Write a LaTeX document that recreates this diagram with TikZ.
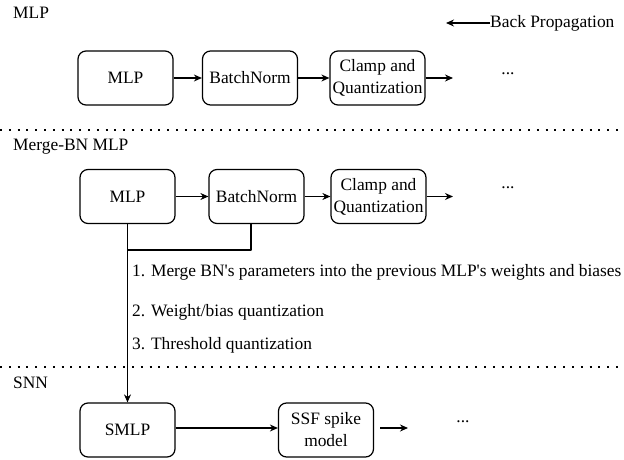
\documentclass[tikz,border=0pt]{standalone}
\usepackage{fontspec}
\setmainfont{LiberationSerif}[Extension=.ttf,UprightFont=*-Regular,BoldFont=*-Bold,ItalicFont=*-Italic]
\usetikzlibrary{arrows.meta}

\tikzset{
  block/.style={draw,line width=1.2pt,rounded corners=8pt,minimum width=95pt,
    minimum height=54pt,inner sep=1pt,align=center},
  flow/.style={-{Stealth[length=8pt,width=7pt]},line width=1.2pt},
  tag/.style={anchor=west,inner sep=0pt},
  sepline/.style={line width=2pt,dash pattern=on 2pt off 6.8pt}
}

\begin{document}
\begin{tikzpicture}[x=1pt,y=-1pt,font=\fontsize{17.4}{22}\selectfont,line join=round]
        \useasboundingbox (0,0) rectangle (624,460);

        % MLP
        \node[tag] (titlea) at (13,13) {MLP};
        \node[tag] (bp) at (490,23) {Back Propagation};
        \coordinate (bptip) at (446,23);
        \draw[flow] (bp.west) -- (bptip);

        \node[block] (mlpa) at (125.5,78) {MLP};
        \node[block] (bna) at (250,78) {BatchNorm};
        \node[block] (clampa) at (377.5,78) {Clamp and\\Quantization};
        \node[inner sep=0pt] (dotsa) at (508,74) {...};
        \coordinate (enda) at (453,78);
        \draw[flow] (mlpa) -- (bna);
        \draw[flow] (bna) -- (clampa);
        \draw[flow] (clampa) -- (enda);

        \draw[sepline] (0,130) coordinate (sepa) -- (624,130);

        % Merge-BN MLP
        \node[tag] (titleb) at (13,147) {Merge-BN MLP};
        \node[block] (mlpb) at (127.5,196.5) {MLP};
        \node[block] (bnb) at (256.5,196.5) {BatchNorm};
        \node[block] (clampb) at (378.5,196.5) {Clamp and\\Quantization};
        \node[inner sep=0pt] (dotsb) at (508,188) {...};
        \coordinate (endb) at (453,196.5);
        \draw[flow] (mlpb) -- (bnb);
        \draw[flow] (bnb) -- (clampb);
        \draw[flow] (clampb) -- (endb);

        \coordinate (bnfoot) at (251,250);
        \coordinate (join) at (127.5,250);
        \draw[line width=1.2pt] (bnb.south -| bnfoot) -- (bnfoot) -- (join);

        \node[tag] (notea) at (132,272) {1. Merge BN\textquotesingle s parameters into the previous MLP\textquotesingle s weights and biases};
        \node[tag] (noteb) at (132,312) {2. Weight/bias quantization};
        \node[tag] (notec) at (132,345) {3. Threshold quantization};

        \draw[sepline] (0,367) coordinate (sepb) -- (624,367);

        % SNN
        \node[tag] (titlec) at (13,383) {SNN};
        \node[block] (smlp) at (127.5,430) {SMLP};
        \node[block] (ssf) at (326,430) {SSF spike\\model};
        \node[inner sep=0pt] (dotsc) at (463,422) {...};
        \coordinate (endc) at (408,428);
        \draw[flow] (mlpb) -- (smlp);
        \draw[flow] (smlp.east |- 0,428) -- (ssf.west |- 0,428);
        \draw[flow] ([xshift=6pt]ssf.east |- endc) -- (endc);
\end{tikzpicture}
\end{document}
